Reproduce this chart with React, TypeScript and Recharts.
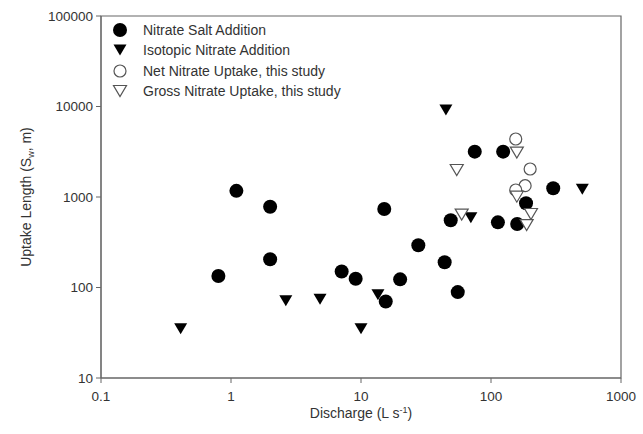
import React from "react";
import { ScatterChart, Scatter, XAxis, YAxis, ReferenceArea, Label } from "recharts";

const saltX = [0.8, 1.1, 2, 2, 7.1, 9.1, 15.1, 15.5, 20, 27.6, 44, 49, 55.5, 75, 113, 124, 159, 186, 301];
const saltY = [134, 1170, 780, 205, 150, 125, 737, 70, 123, 293, 190, 553, 89, 3170, 525, 3170, 503, 852, 1250];

const isoX = [0.41, 2.64, 4.84, 10, 13.5, 45, 70, 504];
const isoY = [35, 71.5, 74, 35, 83, 9150, 590, 1216];

const netX = [155, 200, 183, 155];
const netY = [4375, 2040, 1333, 1195];

const grossX = [54.5, 59.5, 158, 158, 203, 188];
const grossY = [1988, 640, 3090, 1008, 649, 490];

const xTicks = [0.1, 1, 10, 100, 1000];
const yTicks = [10, 100, 1000, 10000, 100000];

const seriesNames = [
  "Nitrate Salt Addition",
  "Isotopic Nitrate Addition",
  "Net Nitrate Uptake, this study",
  "Gross Nitrate Uptake, this study",
];

const zip = (xs: number[], ys: number[]) => xs.map((x, i) => ({ x, y: ys[i] }));

const FONT = "'Liberation Sans', Arial, sans-serif";
const AXIS = "#666";
const TEXT = "#333";

function Dot({ cx, cy, open }: { cx: number; cy: number; open?: boolean }) {
  if (open) return <circle cx={cx} cy={cy} r={6} fill="#fff" stroke="#555" strokeWidth={1.2} />;
  return <circle cx={cx} cy={cy} r={7} fill="#000" />;
}

function Tri({ cx, cy, open }: { cx: number; cy: number; open?: boolean }) {
  const h = 11;
  const w = 13;
  const pts = `${cx - w / 2},${cy - h / 2} ${cx + w / 2},${cy - h / 2} ${cx},${cy + h / 2}`;
  if (open) return <polygon points={pts} fill="#fff" stroke="#555" strokeWidth={1.2} />;
  return <polygon points={pts} fill="#000" />;
}

const icons = [
  (x: number, y: number) => <Dot cx={x} cy={y} />,
  (x: number, y: number) => <Tri cx={x} cy={y} />,
  (x: number, y: number) => <Dot cx={x} cy={y} open />,
  (x: number, y: number) => <Tri cx={x} cy={y} open />,
];

function LegendBox() {
  return (
    <div style={{ position: "absolute", left: 110, top: 20, fontFamily: FONT, fontSize: 14, color: TEXT }}>
      {seriesNames.map((name, i) => (
        <div key={name} style={{ display: "flex", alignItems: "center", height: 20.3 }}>
          <svg width={20} height={18} style={{ marginRight: 13 }}>
            {icons[i](10, 9)}
          </svg>
          <span>{name}</span>
        </div>
      ))}
    </div>
  );
}

export default function App() {
  return (
    <div style={{ position: "absolute", left: 0, top: 0, width: 643, height: 434, background: "#fff" }}>
      <ScatterChart width={643} height={434} margin={{ top: 16, right: 22, bottom: 0, left: 0 }}>
        <XAxis
          type="number"
          dataKey="x"
          scale="log"
          domain={[0.1, 1000]}
          ticks={xTicks}
          allowDataOverflow
          height={56}
          stroke={AXIS}
          tickSize={5}
          tickMargin={8}
          tick={{ fill: TEXT, fontSize: 13.5, fontFamily: FONT }}
          tickFormatter={(v: number) => String(v)}
        >
          <Label
            content={() => (
              <text x={361} y={418} textAnchor="middle" fill={TEXT} fontSize={14} fontFamily={FONT}>
                Discharge (L s
                <tspan dy={-5} fontSize={9}>-1</tspan>
                <tspan dy={5}>)</tspan>
              </text>
            )}
          />
        </XAxis>
        <YAxis
          type="number"
          dataKey="y"
          scale="log"
          domain={[10, 100000]}
          ticks={yTicks}
          allowDataOverflow
          width={101}
          stroke={AXIS}
          tickSize={5}
          tickMargin={3}
          tick={{ fill: TEXT, fontSize: 13.5, fontFamily: FONT }}
          tickFormatter={(v: number) => String(v)}
        >
          <Label
            content={() => (
              <text
                x={31}
                y={197}
                textAnchor="middle"
                fill={TEXT}
                fontSize={14}
                fontFamily={FONT}
                transform="rotate(-90, 31, 197)"
              >
                Uptake Length (S
                <tspan dy={3} fontSize={9}>w</tspan>
                <tspan dy={-3}>, m)</tspan>
              </text>
            )}
          />
        </YAxis>
        <ReferenceArea x1={0.1} x2={1000} y1={10} y2={100000} fill="none" stroke={AXIS} strokeWidth={1.2} ifOverflow="visible" />
        <Scatter name={seriesNames[0]} data={zip(saltX, saltY)} isAnimationActive={false}
          shape={(p: any) => <Dot cx={p.cx} cy={p.cy} />} />
        <Scatter name={seriesNames[1]} data={zip(isoX, isoY)} isAnimationActive={false}
          shape={(p: any) => <Tri cx={p.cx} cy={p.cy} />} />
        <Scatter name={seriesNames[2]} data={zip(netX, netY)} isAnimationActive={false}
          shape={(p: any) => <Dot cx={p.cx} cy={p.cy} open />} />
        <Scatter name={seriesNames[3]} data={zip(grossX, grossY)} isAnimationActive={false}
          shape={(p: any) => <Tri cx={p.cx} cy={p.cy} open />} />
      </ScatterChart>
      <LegendBox />
    </div>
  );
}
